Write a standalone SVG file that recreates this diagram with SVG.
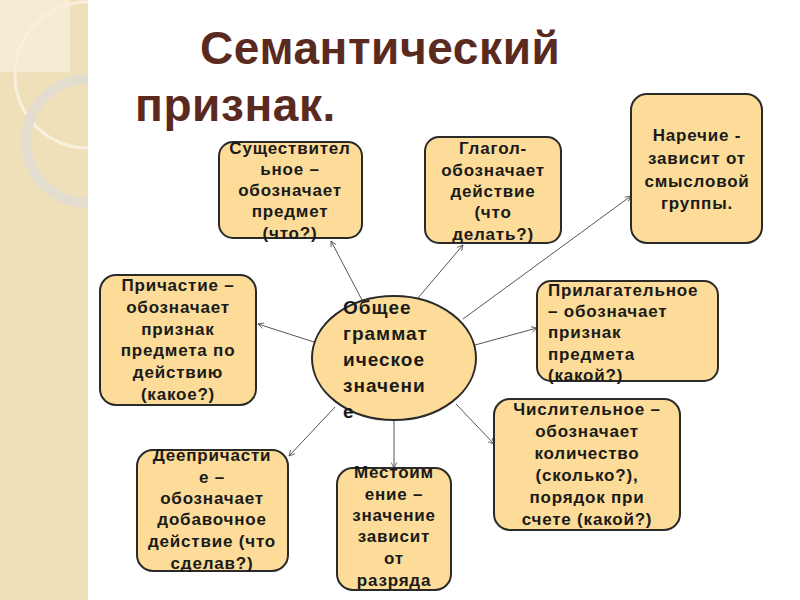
<svg xmlns="http://www.w3.org/2000/svg" width="800" height="600" viewBox="0 0 800 600">
<defs>
<style>
.box{fill:#fcdc98;stroke:#2a2a2a;stroke-width:2}
.t{font-family:"Liberation Sans",Arial,sans-serif;font-weight:bold;font-size:17px;fill:#1a1a1a;text-anchor:middle;letter-spacing:0.8px}
.tl{text-anchor:start}
.big{font-size:19px;letter-spacing:1px}
.title{font-family:"Liberation Sans",Arial,sans-serif;font-weight:bold;font-size:46px;fill:#5b2a1f;letter-spacing:0.6px}
.c{stroke:#555;stroke-width:1;fill:none;marker-end:url(#ah)}
</style>
<marker id="ah" viewBox="0 0 10 10" refX="9" refY="5" markerWidth="7" markerHeight="7" orient="auto" markerUnits="userSpaceOnUse">
<path d="M1,1 L9,5 L1,9" fill="none" stroke="#555" stroke-width="1.2"/>
</marker>
<clipPath id="strip"><rect x="0" y="0" width="88" height="600"/></clipPath>
</defs>
<rect width="800" height="600" fill="#ffffff"/>
<g id="background" clip-path="url(#strip)">
<rect x="0" y="0" width="88" height="600" fill="#efe0b9"/>
<rect x="0" y="0" width="70" height="72" fill="#f6ecd3"/>
<circle cx="88" cy="75" r="73" fill="none" stroke="#f8f0dc" stroke-width="3"/>
<circle cx="88" cy="141" r="62" fill="none" stroke="#e3ddcf" stroke-width="10"/>
</g>
<g id="title">
<text class="title" x="200" y="64">Семантический</text>
<text class="title" x="135" y="121">признак.</text>
</g>
<g id="connectors">
<line class="c" x1="362" y1="300" x2="331" y2="241"/>
<line class="c" x1="418" y1="298" x2="463" y2="245"/>
<line class="c" x1="463" y1="319" x2="631" y2="196"/>
<line class="c" x1="475" y1="345" x2="537" y2="328"/>
<line class="c" x1="456" y1="404" x2="494" y2="444"/>
<line class="c" x1="394" y1="421" x2="394" y2="468"/>
<line class="c" x1="335" y1="407" x2="289" y2="456"/>
<line class="c" x1="314" y1="342" x2="258" y2="324"/>
</g>
<g id="center">
<ellipse class="box" cx="394" cy="358" rx="82" ry="62"/>
<text class="t tl big" x="343" y="314">Общее</text>
<text class="t tl big" x="343" y="340">граммат</text>
<text class="t tl big" x="343" y="366">ическое</text>
<text class="t tl big" x="343" y="392">значени</text>
<text class="t tl big" x="343" y="418">е</text>
</g>
<g id="noun">
<rect class="box" x="219" y="142" width="143" height="96" rx="14"/>
<text class="t" x="290" y="154">Существител</text>
<text class="t" x="290" y="175">ьное –</text>
<text class="t" x="290" y="196">обозначает</text>
<text class="t" x="290" y="217">предмет</text>
<text class="t" x="290" y="239">(что?)</text>
</g>
<g id="verb">
<rect class="box" x="425" y="137" width="136" height="106" rx="14"/>
<text class="t" x="493" y="154">Глагол-</text>
<text class="t" x="493" y="176">обозначает</text>
<text class="t" x="493" y="197">действие</text>
<text class="t" x="493" y="218">(что</text>
<text class="t" x="493" y="240">делать?)</text>
</g>
<g id="adverb">
<rect class="box" x="631" y="94" width="131" height="149" rx="16"/>
<text class="t" x="697" y="141">Наречие -</text>
<text class="t" x="697" y="164">зависит от</text>
<text class="t" x="697" y="187">смысловой</text>
<text class="t" x="697" y="209">группы.</text>
</g>
<g id="participle">
<rect class="box" x="100" y="275" width="156" height="130" rx="16"/>
<text class="t" x="178" y="291">Причастие –</text>
<text class="t" x="178" y="313">обозначает</text>
<text class="t" x="178" y="335">признак</text>
<text class="t" x="178" y="356">предмета по</text>
<text class="t" x="178" y="378">действию</text>
<text class="t" x="178" y="400">(какое?)</text>
</g>
<g id="adjective">
<rect class="box" x="537" y="281" width="181" height="100" rx="14"/>
<text class="t tl" x="548" y="296">Прилагательное</text>
<text class="t tl" x="548" y="317">– обозначает</text>
<text class="t tl" x="548" y="338">признак</text>
<text class="t tl" x="548" y="360">предмета</text>
<text class="t tl" x="548" y="381">(какой?)</text>
</g>
<g id="numeral">
<rect class="box" x="494" y="399" width="186" height="131" rx="16"/>
<text class="t" x="587" y="415">Числительное –</text>
<text class="t" x="587" y="437">обозначает</text>
<text class="t" x="587" y="459">количество</text>
<text class="t" x="587" y="481">(сколько?),</text>
<text class="t" x="587" y="503">порядок при</text>
<text class="t" x="587" y="525">счете (какой?)</text>
</g>
<g id="gerund">
<rect class="box" x="137" y="450" width="151" height="121" rx="16"/>
<text class="t" x="212" y="461">Деепричасти</text>
<text class="t" x="212" y="483">е –</text>
<text class="t" x="212" y="504">обозначает</text>
<text class="t" x="212" y="525">добавочное</text>
<text class="t" x="212" y="547">действие (что</text>
<text class="t" x="212" y="569">сделав?)</text>
</g>
<g id="pronoun">
<rect class="box" x="337" y="468" width="114" height="122" rx="16"/>
<text class="t" x="394" y="478">Местоим</text>
<text class="t" x="394" y="500">ение –</text>
<text class="t" x="394" y="521">значение</text>
<text class="t" x="394" y="542">зависит</text>
<text class="t" x="394" y="564">от</text>
<text class="t" x="394" y="586">разряда</text>
</g>
</svg>
